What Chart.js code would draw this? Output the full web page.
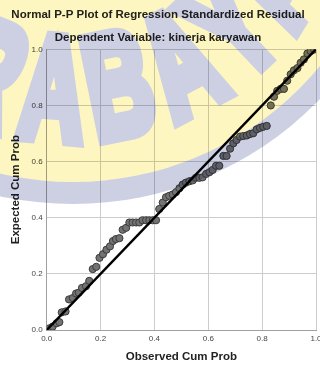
<!DOCTYPE html>
<html>
<head>
<meta charset="utf-8">
<script src="https://cdn.jsdelivr.net/npm/chart.js@4.4.1/dist/chart.umd.min.js"></script>
<style>
    html, body { margin: 0; padding: 0; background: #fff; }
    canvas { display: block; }
</style>
</head>
<body>
<canvas id="ppPlot" width="320" height="366"></canvas>
<script>
// observed cumulative probability (x) and expected cumulative probability (y)
const observedCumProb = [
    0.010, 0.022, 0.037, 0.047, 0.056, 0.070, 0.083, 0.097, 0.109, 0.119,
    0.131, 0.146, 0.158, 0.171, 0.184, 0.196, 0.209, 0.222, 0.235, 0.246,
    0.257, 0.270, 0.282, 0.295, 0.307, 0.319, 0.332, 0.344, 0.356, 0.369,
    0.381, 0.394, 0.406, 0.418, 0.431, 0.443, 0.455, 0.468, 0.480, 0.493,
    0.505, 0.517, 0.530, 0.542, 0.554, 0.567, 0.579, 0.592, 0.604, 0.616,
    0.629, 0.641, 0.656, 0.668, 0.681, 0.693, 0.705, 0.718, 0.730, 0.743,
    0.755, 0.767, 0.780, 0.792, 0.804, 0.817, 0.832, 0.844, 0.856, 0.869,
    0.881, 0.893, 0.906, 0.918, 0.931, 0.943, 0.955, 0.968, 0.980, 0.993,
];
const expectedCumProb = [
    0.006, 0.012, 0.024, 0.028, 0.063, 0.066, 0.109, 0.114, 0.130, 0.133,
    0.150, 0.156, 0.175, 0.217, 0.225, 0.257, 0.270, 0.286, 0.298, 0.317,
    0.324, 0.327, 0.357, 0.364, 0.383, 0.383, 0.383, 0.383, 0.391, 0.391,
    0.391, 0.391, 0.391, 0.431, 0.454, 0.473, 0.478, 0.483, 0.491, 0.505,
    0.518, 0.525, 0.530, 0.533, 0.542, 0.542, 0.544, 0.556, 0.562, 0.570,
    0.585, 0.585, 0.620, 0.620, 0.646, 0.665, 0.677, 0.689, 0.691, 0.693,
    0.698, 0.701, 0.715, 0.720, 0.724, 0.727, 0.800, 0.831, 0.852, 0.859,
    0.859, 0.888, 0.911, 0.925, 0.933, 0.952, 0.964, 0.985, 0.994, 0.999,
];
// diagonal reference line ends
const diagonalX = [0, 1];
const diagonalY = [0, 1];
const axisTicks = [0, 0.2, 0.4, 0.6, 0.8, 1.0];

const fontFamily = "'Liberation Sans', Arial, sans-serif";

// white page behind everything
const whiteBackground = {
    id: "whiteBackground",
    beforeDraw(chart) {
        const ctx = chart.ctx;
        ctx.save();
        ctx.fillStyle = "#ffffff";
        ctx.fillRect(0, 0, chart.width, chart.height);
        ctx.restore();
    },
};

// the logo watermark laid over the scan (painted on its own canvas, then multiplied)
function buildWatermark(w, h) {
    const c = document.createElement("canvas");
    c.width = w;
    c.height = h;
    const g = c.getContext("2d");
    const cx = 73, cy = -139;
    g.fillStyle = "#ffffff";
    g.fillRect(0, 0, w, h);
    g.fillStyle = "#cdd0e3";
    g.beginPath();
    g.arc(cx, cy, 343, 0, Math.PI * 2);
    g.fill();
    g.fillStyle = "#fef6c0";
    g.beginPath();
    g.arc(cx, cy, 321, 0, Math.PI * 2);
    g.fill();

    const letters = ["U", "R", "A", "B", "A", "Y", "A"];
    const angles = [-38, -22, -5, 11.5, 28, 43.5, 58.5];
    g.fillStyle = "#cdd0e3";
    g.strokeStyle = "#cdd0e3";
    g.lineJoin = "miter";
    g.lineWidth = 14;
    g.font = "bold 145px " + fontFamily;
    g.textAlign = "center";
    g.textBaseline = "alphabetic";
    letters.forEach((ch, i) => {
        const phi = angles[i] * Math.PI / 180;
        const r = 228;
        g.save();
        g.translate(cx + r * Math.sin(phi), cy + r * Math.cos(phi));
        g.rotate(-phi);
        g.scale(0.62, 1);
        g.fillText(ch, 0, 50);
        g.strokeText(ch, 0, 50);
        g.restore();
    });
    return c;
}

const watermark = {
    id: "watermark",
    afterDraw(chart) {
        const ctx = chart.ctx;
        const img = buildWatermark(chart.width, chart.height);
        ctx.save();
        ctx.globalCompositeOperation = "multiply";
        ctx.drawImage(img, 0, 0);
        ctx.restore();
    },
};

const points = observedCumProb.map((x, i) => ({ x: x, y: expectedCumProb[i] }));
const diagonal = diagonalX.map((x, i) => ({ x: x, y: diagonalY[i] }));

let chartContainer = document.getElementById("ppPlot");
let chart = new Chart(chartContainer, {
    type: "scatter",
    data: {
        datasets: [
            {
                label: "Observed",
                data: points,
                order: 1,
                pointRadius: 3.6,
                pointBackgroundColor: "#737373",
                pointBorderColor: "#3c3c3c",
                pointBorderWidth: 1,
                showLine: false,
            },
            {
                label: "Diagonal",
                data: diagonal,
                order: 0,
                showLine: true,
                borderColor: "#000000",
                borderWidth: 2.5,
                pointRadius: 0,
            },
        ],
    },
    options: {
        responsive: false,
        animation: false,
        devicePixelRatio: 1,
        layout: {
            autoPadding: false,
            padding: { left: 0, right: 4, top: 0, bottom: 0 },
        },
        plugins: {
            legend: { display: false },
            tooltip: { enabled: false },
            title: {
                display: true,
                text: "Normal P-P Plot of Regression Standardized Residual",
                color: "#222",
                font: { family: fontFamily, size: 11.5, weight: "bold" },
                padding: { top: 8, bottom: 9 },
            },
            subtitle: {
                display: true,
                text: "Dependent Variable: kinerja karyawan",
                color: "#222",
                font: { family: fontFamily, size: 11.5, weight: "bold" },
                padding: { top: 0, bottom: 4.7 },
            },
        },
        scales: {
            x: {
                type: "linear",
                min: 0,
                max: 1,
                afterBuildTicks(scale) {
                    scale.ticks = axisTicks.map(v => ({ value: v }));
                },
                afterFit(scale) {
                    scale.height = 36;
                    scale.paddingLeft = 0;
                    scale.paddingRight = 0;
                },
                ticks: {
                    padding: 4,
                    color: "#444",
                    font: { family: fontFamily, size: 8 },
                    callback: v => v.toFixed(1),
                    maxRotation: 0,
                },
                grid: { color: "#cccccc", drawTicks: false },
                border: { color: "#a0a0a0" },
                title: {
                    display: true,
                    text: "Observed Cum Prob",
                    color: "#222",
                    font: { family: fontFamily, size: 11.5, weight: "bold" },
                    padding: { top: 0, bottom: 2 },
                },
            },
            y: {
                type: "linear",
                min: 0,
                max: 1,
                afterBuildTicks(scale) {
                    scale.ticks = axisTicks.map(v => ({ value: v }));
                },
                afterFit(scale) {
                    scale.width = 46.7;
                    scale.paddingTop = 0;
                    scale.paddingBottom = 0;
                },
                ticks: {
                    padding: 4,
                    color: "#444",
                    font: { family: fontFamily, size: 8 },
                    callback: v => v.toFixed(1),
                },
                grid: { color: "#cccccc", drawTicks: false },
                border: { color: "#a0a0a0" },
                title: {
                    display: true,
                    text: "Expected Cum Prob",
                    color: "#222",
                    font: { family: fontFamily, size: 11.5, weight: "bold" },
                    padding: { top: 9, bottom: 0 },
                },
            },
        },
    },
    plugins: [whiteBackground, watermark],
});
</script>
</body>
</html>
